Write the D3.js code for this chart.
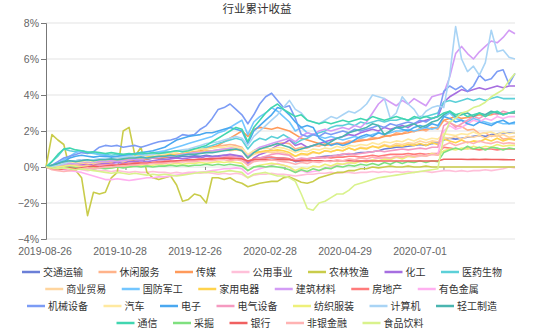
<!DOCTYPE html>
<html>
<head>
<meta charset="utf-8">
<script src="https://cdn.jsdelivr.net/npm/d3@7"></script>
<style>
  body { margin: 0; background: #fff; }
  svg { font-family: "Noto Sans CJK SC", "Noto Sans", sans-serif; }
</style>
</head>
<body>
<svg id="chart" width="550" height="332"></svg>
<script>
// ---- data: cumulative return (%) by industry, sampled every 3 trading days ----
const chartTitle = "行业累计收益";
const xLabels = ["2019-08-26", "2019-10-28", "2019-12-26", "2020-02-28", "2020-04-29", "2020-07-01"];
const yTicks = [-4, -2, 0, 2, 4, 6, 8];
const names = ["交通运输","休闲服务","传媒","公用事业","农林牧渔","化工","医药生物",
  "商业贸易","国防军工","家用电器","建筑材料","房地产","有色金属",
  "机械设备","汽车","电子","电气设备","纺织服装","计算机","轻工制造",
  "通信","采掘","银行","非银金融","食品饮料"];
const colors = ["#6b7fd7","#ffb38a","#ff9a5a","#ffc0d9","#c9cc4a","#a66ee0","#5cd0d8",
  "#ffd59e","#73c6ff","#ffd34d","#d39cf5","#ff7b7b","#ffb0f0",
  "#7c9cf5","#ffe9a0","#4aa8f0","#f59ac0","#eef07a","#a9d4f5","#4ab5b0",
  "#40d6b0","#7fe07f","#f06060","#ffb3b3","#d9f28c"];
const legendRows = [7, 6, 7, 5];

const transport = [0,0.1,0.15,0.25,0.3,0.35,0.4,0.38,0.3,0.32, 0.28,0.3,0.35,0.3,0.32,0.4,0.45,0.42,0.5,0.48,
  0.5,0.55,0.52,0.6,0.58,0.62,0.6,0.65,0.6,0.62, 0.65,0.6,0.62,0.55,0.2,0.45,0.5,0.55,0.52,0.5,
  0.48,0.45,0.3,0.35,0.4,0.5,0.55,0.6,0.62,0.65, 0.7,0.72,0.75,0.8,0.82,0.85,0.9,1.0,1.05,1.1,
  1.12,1.15,1.2,1.25,1.2,1.3,1.35,1.5,1.6,1.55, 1.6,1.65,1.7,1.75,1.7,1.8,1.85,1.9,1.88,1.9];
const leisure = [0,0.05,0.1,0.2,0.25,0.3,0.3,0.35,0.3,0.35, 0.4,0.45,0.5,0.5,0.55,0.6,0.65,0.7,0.7,0.75,
  0.75,0.8,0.85,0.9,0.95,1.0,1.0,1.05,1.1,1.15, 1.2,1.25,1.2,1.1,0.6,0.9,1.0,1.1,1.2,1.3,
  1.35,1.3,1.0,1.1,1.05,1.2,1.15,1.3,1.25,1.35, 1.3,1.45,1.4,1.55,1.5,1.65,1.6,1.75,1.7,1.9,
  1.85,2.05,1.95,2.15,2.0,2.2,2.1,2.6,2.45,2.3, 2.25,2.05,2.1,1.85,1.9,1.7,1.8,1.55,1.6,1.5];
const media = [0,0.05,0.1,0.1,0.15,0.1,0.2,0.15,0.1,0.2, 0.2,0.25,0.3,0.3,0.35,0.4,0.4,0.45,0.5,0.5,
  0.55,0.6,0.65,0.7,0.8,0.85,0.9,1.0,1.1,1.2, 1.4,1.6,1.8,2.0,1.7,2.1,2.2,2.15,2.1,2.2,
  2.1,2.0,1.8,1.6,1.5,1.4,1.3,1.2,1.25,1.3, 1.3,1.35,1.4,1.45,1.5,1.55,1.6,1.7,1.75,1.8,
  1.85,1.9,2.0,2.05,2.1,2.15,2.2,2.6,2.7,2.8, 2.7,2.75,2.8,2.9,2.85,2.9,3.0,2.95,3.0,3.0];
const utilities = [0,-0.05,-0.1,-0.1,-0.15,-0.1,-0.15,-0.2,-0.15,-0.2, -0.2,-0.25,-0.2,-0.25,-0.3,-0.25,-0.3,-0.3,-0.25,-0.3,
  -0.3,-0.35,-0.3,-0.35,-0.3,-0.3,-0.35,-0.3,-0.35,-0.4, -0.35,-0.4,-0.35,-0.4,-0.6,-0.45,-0.4,-0.4,-0.35,-0.4,
  -0.4,-0.45,-0.5,-0.45,-0.4,-0.4,-0.35,-0.35,-0.3,-0.35, -0.3,-0.3,-0.35,-0.3,-0.3,-0.25,-0.3,-0.25,-0.3,-0.25,
  -0.3,-0.25,-0.3,-0.25,-0.25,-0.3,-0.25,-0.2,-0.2,-0.25, -0.2,-0.25,-0.2,-0.2,-0.15,-0.2,-0.15,-0.1,0.0,-0.05];
const agriculture = [0,1.8,1.5,1.25,-0.1,-0.2,-0.6,-2.7,-1.4,-1.5, -1.4,-0.6,-0.3,2.0,2.2,0.6,1.1,-0.3,-0.6,-0.7,
  -0.6,-0.5,-1.0,-1.9,-1.8,-1.5,-1.6,-2.0,-0.6,-0.6, -0.7,-0.6,-0.8,-0.9,-1.1,-1.0,-0.9,-0.85,-0.8,-0.8,
  -0.6,-0.55,-0.7,-0.85,-0.9,-0.8,-0.6,-0.5,-0.4,-0.3, -0.3,-0.2,-0.2,-0.1,-0.1,0.0,-0.05,0.0,0.05,0.0,
  0.0,0.05,0.0,0.0,0.05,0.0,0.0,0.0,0.0,0.0, 0,0,0,0,0,0,0,0,0,0];
const chemicals = [0,0.05,0.1,0.1,0.15,0.1,0.15,0.1,0.2,0.15, 0.2,0.2,0.25,0.2,0.3,0.3,0.35,0.3,0.35,0.4,
  0.4,0.45,0.5,0.45,0.5,0.55,0.5,0.6,0.55,0.6, 0.65,0.7,0.65,0.6,0.2,0.5,0.7,0.8,1.0,1.2,
  1.3,1.5,1.2,1.3,1.1,1.2,1.3,1.4,1.5,1.6, 1.7,1.8,1.75,1.9,2.0,2.1,2.0,2.2,2.1,2.2,
  2.3,2.2,2.4,2.5,2.6,2.7,2.8,3.6,3.9,4.1, 4.3,4.2,4.3,4.4,4.3,4.4,4.5,4.4,4.5,4.5];
const pharma = [0,0.3,0.6,1.0,0.9,0.85,0.9,0.8,0.75,0.7, 0.7,0.65,0.7,0.6,0.65,0.7,0.7,0.75,0.7,0.8,
  0.85,0.8,0.9,0.85,0.9,1.0,1.0,1.1,1.2,1.3, 1.4,1.5,1.6,1.5,1.0,1.4,1.6,1.5,1.7,1.6,
  1.8,1.6,1.3,1.5,1.6,1.8,1.9,2.0,2.2,2.3, 2.3,2.4,2.3,2.5,2.4,2.5,2.6,2.5,2.6,2.6,
  2.7,2.6,2.7,2.8,2.8,2.9,3.0,3.6,3.7,3.6, 3.7,3.8,3.7,3.8,3.7,3.8,3.9,3.8,3.8,3.8];
const commerce = [0,0.05,0.1,0.15,0.2,0.15,0.2,0.25,0.2,0.25, 0.3,0.3,0.35,0.3,0.4,0.45,0.5,0.5,0.55,0.6,
  0.6,0.65,0.7,0.7,0.75,0.8,0.8,0.85,0.9,0.9, 0.95,0.9,0.95,0.9,0.5,0.7,0.8,0.85,0.8,0.85,
  0.8,0.7,0.6,0.7,0.65,0.8,0.75,0.9,0.85,0.95, 0.9,1.05,0.95,1.1,1.05,1.15,1.1,1.25,1.15,1.3,
  1.25,1.35,1.3,1.45,1.35,1.45,1.4,1.65,1.6,1.7, 1.55,1.7,1.65,1.75,1.6,1.75,1.7,1.8,1.65,1.7];
const defense = [0,0.1,0.2,0.4,0.6,0.8,0.9,0.85,0.8,0.7, 0.65,0.6,0.55,0.6,0.65,0.7,0.75,0.7,0.8,0.85,
  0.9,1.0,1.1,1.2,1.3,1.4,1.5,1.6,1.7,1.9, 2.0,2.2,2.4,2.6,1.8,2.5,2.8,3.0,3.3,3.1,
  2.8,2.5,2.0,2.2,1.9,1.8,1.7,1.6,1.7,1.6, 1.5,1.6,1.7,1.6,1.7,1.8,1.9,1.8,1.9,2.0,
  2.0,2.1,2.0,2.1,2.2,2.1,2.2,2.8,3.0,2.7, 2.6,2.5,2.7,2.6,2.5,2.4,2.5,2.4,2.4,2.4];
const appliances = [0,0.1,0.15,0.2,0.25,0.2,0.25,0.3,0.25,0.3, 0.3,0.35,0.4,0.4,0.45,0.5,0.5,0.55,0.6,0.6,
  0.65,0.7,0.7,0.75,0.8,0.8,0.85,0.9,0.9,0.95, 1.0,0.95,1.0,0.95,0.5,0.8,0.85,0.9,0.9,0.95,
  0.9,0.8,0.6,0.75,0.7,0.85,0.75,0.9,0.85,0.95, 0.9,1.05,0.95,1.05,1.0,1.15,1.05,1.2,1.1,1.2,
  1.15,1.25,1.2,1.3,1.2,1.35,1.25,1.55,1.45,1.35, 1.5,1.35,1.45,1.4,1.55,1.45,1.6,1.45,1.55,1.5];
const buildingMaterials = [0,0.05,0.1,0.15,0.2,0.2,0.25,0.3,0.25,0.3, 0.3,0.35,0.3,0.35,0.4,0.45,0.4,0.5,0.5,0.55,
  0.6,0.6,0.65,0.7,0.75,0.8,0.8,0.85,0.9,0.95, 1.0,1.05,1.1,1.0,0.6,0.9,1.1,1.2,1.3,1.4,
  1.5,1.6,1.4,1.7,1.9,1.8,2.0,2.1,2.0,2.1, 2.2,2.1,2.3,2.2,2.5,3.0,3.5,3.8,3.6,3.4,
  3.7,3.5,3.8,3.6,3.4,3.9,4.0,4.1,5.0,6.3, 6.7,6.3,6.0,6.4,6.7,7.0,6.9,7.2,7.6,7.4];
const realEstate = [0,-0.1,-0.15,-0.1,-0.05,0.0,0.05,0.1,0.05,0.1, 0.1,0.15,0.1,0.15,0.2,0.2,0.25,0.2,0.25,0.3,
  0.3,0.35,0.3,0.35,0.4,0.4,0.45,0.4,0.45,0.5, 0.5,0.55,0.5,0.5,0.3,0.45,0.5,0.5,0.55,0.5,
  0.5,0.45,0.35,0.4,0.45,0.5,0.5,0.55,0.5,0.55, 0.55,0.6,0.6,0.55,0.6,0.65,0.6,0.65,0.7,0.7,
  0.7,0.75,0.7,0.75,0.7,0.75,0.75,1.1,1.05,1.0, 1.0,1.05,1.0,0.95,1.0,1.0,0.95,1.0,1.0,1.0];
const nonferrous = [0,-0.05,-0.1,-0.15,-0.2,-0.25,-0.3,-0.4,-0.5,-0.6, -0.7,-0.7,-0.65,-0.7,-0.75,-0.7,-0.65,-0.6,-0.6,-0.55,
  -0.55,-0.5,-0.45,-0.4,-0.35,-0.3,-0.3,-0.25,-0.2,-0.15, -0.1,-0.1,-0.05,-0.1,-0.4,-0.2,-0.1,0.0,0.1,0.2,
  0.1,0.0,-0.3,-0.2,-0.3,-0.25,-0.2,-0.1,0.0,0.1, 0.15,0.2,0.25,0.3,0.35,0.4,0.5,0.45,0.5,0.55,
  0.5,0.6,0.55,0.6,0.65,0.7,0.7,2.0,2.3,2.1, 2.2,2.4,2.6,2.5,2.7,2.6,2.8,2.7,2.8,2.8];
const machinery = [0,0.1,0.3,0.5,0.6,0.7,0.8,0.75,0.85,1.1, 1.2,1.15,1.2,1.1,1.15,1.2,1.1,1.2,1.3,1.4,
  1.45,1.5,1.6,1.8,1.75,1.8,2.1,2.3,2.7,3.2, 3.3,3.5,3.2,2.9,2.4,2.9,3.5,3.9,4.1,3.7,
  3.3,3.4,2.7,1.8,1.7,1.8,1.7,1.9,1.8,1.9, 2.0,1.9,2.1,2.0,2.1,2.2,2.3,2.2,2.4,2.3,
  2.4,2.5,2.4,2.6,2.5,2.7,2.8,4.2,4.5,4.3, 4.5,4.2,4.5,5.1,4.8,4.9,5.3,5.4,4.6,5.2];
const autos = [0,0.1,0.15,0.2,0.3,0.25,0.3,0.35,0.3,0.4, 0.4,0.45,0.5,0.5,0.55,0.6,0.6,0.65,0.7,0.7,
  0.75,0.8,0.85,0.9,0.9,0.95,1.0,1.0,1.05,1.1, 1.1,1.15,1.1,1.05,0.7,0.9,1.0,1.05,1.0,1.1,
  1.05,0.95,0.8,0.9,0.85,1.0,0.95,1.05,1.0,1.15, 1.05,1.2,1.15,1.25,1.2,1.35,1.25,1.4,1.35,1.45,
  1.4,1.55,1.45,1.6,1.5,1.6,1.55,1.85,1.8,1.75, 1.85,1.8,1.95,1.8,1.9,1.95,1.8,1.95,1.85,1.9];
const electronics = [0,0.1,0.2,0.3,0.5,0.6,0.65,0.6,0.55,0.6, 0.6,0.55,0.6,0.65,0.7,0.75,0.8,0.85,0.9,1.0,
  1.1,1.3,1.5,1.6,1.7,1.75,1.8,1.9,1.9,2.0, 2.1,2.2,2.1,2.0,1.3,2.0,2.3,2.6,2.9,3.3,
  3.2,2.9,2.5,2.2,2.3,2.2,1.6,1.4,1.2,1.3, 1.2,1.3,1.5,1.7,1.8,1.7,1.9,1.8,2.0,2.2,
  2.1,2.0,2.2,2.3,2.2,2.4,2.3,2.8,2.7,2.5, 2.6,2.4,2.3,2.5,2.4,2.3,2.5,2.6,2.4,2.5];
const electrical = [0,0.0,0.05,0.0,0.05,0.1,0.05,0.1,0.05,0.1, 0.1,0.15,0.1,0.15,0.2,0.15,0.2,0.25,0.2,0.25,
  0.3,0.3,0.35,0.3,0.35,0.4,0.4,0.45,0.5,0.5, 0.55,0.6,0.55,0.5,0.1,0.4,0.5,0.6,0.7,0.75,
  0.7,0.65,0.4,0.5,0.45,0.5,0.55,0.5,0.6,0.65, 0.7,0.75,0.7,0.75,0.8,0.85,0.9,0.85,0.9,0.95,
  1.0,0.95,1.0,1.05,1.0,1.1,1.1,2.3,2.5,2.2, 2.4,2.6,2.8,2.7,2.9,3.0,2.9,3.1,3.0,3.1];
const textiles = [0,0.05,0.0,0.05,0.1,0.05,0.0,0.05,0.0,-0.05, 0.0,-0.05,0.0,0.05,0.0,0.05,0.1,0.05,0.1,0.15,
  0.1,0.15,0.2,0.15,0.2,0.2,0.25,0.2,0.25,0.3, 0.25,0.3,0.25,0.2,-0.2,0.0,0.1,0.15,0.2,0.15,
  0.1,0.0,-0.2,-0.05,-0.1,0.05,0.0,0.15,0.05,0.2, 0.15,0.25,0.2,0.35,0.25,0.4,0.35,0.45,0.4,0.55,
  0.45,0.6,0.55,0.65,0.6,0.75,0.65,0.9,1.0,0.95, 1.05,1.0,1.15,1.05,1.15,1.1,1.25,1.15,1.2,1.2];
const computers = [0,0.05,0.1,0.2,0.3,0.35,0.4,0.35,0.4,0.45, 0.5,0.45,0.5,0.55,0.6,0.55,0.6,0.65,0.7,0.75,
  0.8,0.85,0.9,0.95,1.0,1.1,1.2,1.3,1.35,1.4, 1.5,1.6,1.7,1.6,1.2,1.7,2.0,2.3,2.6,2.9,
  3.3,3.7,3.2,3.0,2.6,2.5,2.4,2.6,2.8,2.7, 2.9,3.1,3.0,3.2,3.5,4.0,3.9,3.8,2.7,3.0,
  3.9,3.5,3.2,2.7,3.1,3.3,3.4,3.3,5.1,7.8, 6.0,5.3,5.6,5.1,5.8,7.6,6.4,6.5,6.1,6.0];
const lightIndustry = [0,0.1,0.2,0.3,0.35,0.3,0.35,0.4,0.35,0.4, 0.4,0.45,0.4,0.45,0.5,0.5,0.55,0.5,0.55,0.6,
  0.6,0.65,0.6,0.65,0.7,0.7,0.75,0.8,0.8,0.85, 0.9,0.95,1.0,0.9,0.5,0.8,1.0,1.1,1.2,1.3,
  1.2,1.1,0.9,1.0,1.1,1.2,1.3,1.2,1.4,1.6, 1.7,1.9,2.0,2.1,2.2,2.4,2.3,1.8,2.0,2.2,
  2.2,2.3,2.4,2.2,2.3,2.5,2.6,2.9,3.1,2.8, 2.9,3.0,2.8,3.0,2.9,3.1,3.0,2.9,3.0,3.0];
const telecom = [0,0.3,0.7,1.0,1.05,0.95,0.9,0.8,0.85,0.8, 0.75,0.8,0.75,0.7,0.75,0.7,0.8,0.75,0.8,0.75,
  0.8,0.85,0.9,0.85,0.9,1.0,1.1,1.2,1.4,1.6, 1.8,2.0,2.2,2.1,1.4,2.2,2.6,3.0,3.3,3.5,
  3.2,3.0,2.8,2.9,2.6,2.5,2.4,2.5,2.4,2.5, 2.6,2.5,2.6,2.7,2.6,2.8,2.7,2.6,2.7,2.8,
  2.7,2.6,2.8,2.7,2.8,2.7,2.8,3.0,3.1,2.9, 3.0,2.8,2.9,3.0,2.8,3.0,3.1,2.9,3.0,3.1];
const mining = [0,-0.05,-0.1,-0.05,0.0,-0.05,-0.1,-0.05,-0.1,-0.05, -0.1,-0.05,0.0,-0.05,0.0,0.05,0.0,0.05,0.0,0.05,
  0.05,0.1,0.05,0.1,0.05,0.1,0.1,0.15,0.1,0.15, 0.1,0.15,0.1,0.05,-0.2,0.0,0.05,0.0,0.05,0.0,
  -0.05,-0.15,-0.3,-0.15,-0.25,-0.1,-0.2,-0.05,-0.1,0.05, 0.0,0.1,0.05,0.15,0.1,0.2,0.1,0.25,0.15,0.3,
  0.2,0.3,0.25,0.35,0.25,0.35,0.3,0.8,0.95,1.05, 0.95,1.15,1.0,1.1,0.95,1.1,1.05,0.95,1.05,1.0];
const banks = [0,-0.1,-0.15,-0.1,-0.05,-0.1,-0.05,0.0,0.05,0.0, 0.05,0.1,0.1,0.15,0.15,0.2,0.2,0.2,0.25,0.25,
  0.3,0.3,0.35,0.35,0.4,0.4,0.4,0.45,0.45,0.45, 0.5,0.45,0.45,0.45,0.35,0.4,0.4,0.4,0.4,0.4,
  0.4,0.4,0.35,0.35,0.35,0.35,0.35,0.35,0.35,0.35, 0.35,0.35,0.33,0.33,0.33,0.33,0.33,0.33,0.33,0.33,
  0.33,0.33,0.33,0.33,0.33,0.33,0.33,0.43,0.43,0.43, 0.43,0.42,0.43,0.42,0.43,0.42,0.42,0.41,0.4,0.4];
const nonBankFinance = [0,-0.15,-0.2,-0.25,-0.2,-0.15,-0.1,-0.05,-0.1,-0.05, 0.0,0.0,0.05,0.05,0.1,0.1,0.15,0.15,0.2,0.2,
  0.2,0.25,0.25,0.3,0.3,0.3,0.35,0.35,0.35,0.4, 0.4,0.35,0.4,0.35,0.1,0.3,0.35,0.35,0.4,0.35,
  0.3,0.25,0.15,0.25,0.2,0.3,0.25,0.35,0.3,0.4, 0.35,0.45,0.4,0.5,0.45,0.55,0.5,0.55,0.5,0.6,
  0.55,0.65,0.6,0.65,0.6,0.7,0.65,1.2,1.35,1.2, 1.3,1.4,1.3,1.45,1.35,1.3,1.4,1.3,1.35,1.3];
const foodBeverage = [0,-0.05,-0.1,-0.05,-0.1,-0.15,-0.1,-0.15,-0.2,-0.25, -0.3,-0.35,-0.3,-0.35,-0.4,-0.35,-0.4,-0.45,-0.4,-0.45,
  -0.4,-0.45,-0.5,-0.45,-0.4,-0.35,-0.3,-0.3,-0.25,-0.3, -0.25,-0.2,-0.25,-0.3,-0.6,-0.4,-0.35,-0.3,-0.4,-0.5,
  -0.5,-0.6,-0.8,-1.5,-2.3,-2.4,-2.0,-1.9,-1.7,-1.5, -1.5,-1.3,-1.0,-0.9,-0.8,-0.7,-0.6,-0.55,-0.5,-0.45,
  -0.4,-0.35,-0.3,-0.25,-0.2,-0.15,-0.1,1.7,2.5,2.7, 3.0,3.1,3.3,3.4,3.6,3.9,4.1,4.3,4.8,5.2];

const seriesValues = [transport, leisure, media, utilities, agriculture, chemicals, pharma,
  commerce, defense, appliances, buildingMaterials, realEstate, nonferrous,
  machinery, autos, electronics, electrical, textiles, computers, lightIndustry,
  telecom, mining, banks, nonBankFinance, foodBeverage];

// ---- layout ----
const svg = d3.select("#chart");
const margin = { left: 46, right: 35, top: 23, bottom: 93 };
const W = 550, H = 332;
const nPts = transport.length;

const x = d3.scaleLinear().domain([0, nPts - 1]).range([margin.left, W - margin.right]);
const y = d3.scaleLinear().domain([-4, 8]).range([H - margin.bottom, margin.top]);
const xLab = d3.scalePoint().domain(xLabels).range([45, 420]);

// title
svg.append("text")
  .attr("x", 257).attr("y", 13)
  .attr("text-anchor", "middle")
  .attr("font-size", 11.5).attr("fill", "#333")
  .text(chartTitle);

// horizontal grid
svg.append("g").selectAll("line").data(yTicks).join("line")
  .attr("x1", x(0)).attr("x2", x(nPts - 1))
  .attr("y1", d => y(d)).attr("y2", d => y(d))
  .attr("stroke", "#e3e3e3").attr("stroke-width", 1.2);

// y axis
const yAxis = svg.append("g")
  .attr("transform", `translate(${x(0)},0)`)
  .call(d3.axisLeft(y).tickValues(yTicks).tickFormat(d => d3.format(".0%")(d / 100))
    .tickSizeInner(5).tickSizeOuter(5).tickPadding(2));
yAxis.selectAll("text").attr("font-size", 10.5).attr("fill", "#666")
  .style("font-family", "'Liberation Sans', 'DejaVu Sans', sans-serif");
yAxis.selectAll("path, line").attr("stroke", "#777");

// tick marks on the zero line
const tickEvery = (nPts - 1) * 40 / 236;
const zAxis = svg.append("g")
  .attr("transform", `translate(0,${y(0)})`)
  .call(d3.axisBottom(x).tickValues(d3.range(0, nPts, tickEvery)).tickSize(3).tickFormat(""));
zAxis.select(".domain").remove();
zAxis.selectAll("line").attr("stroke", "#888");

// date labels along the bottom
svg.append("g").selectAll("text").data(xLabels).join("text")
  .attr("x", d => xLab(d)).attr("y", 255)
  .attr("text-anchor", "middle")
  .attr("font-size", 10.5).attr("fill", "#666")
  .style("font-family", "'Liberation Sans', 'DejaVu Sans', sans-serif")
  .text(d => d);

// lines
const line = d3.line().x((d, i) => x(i)).y(d => y(d));
svg.append("g").selectAll("path").data(seriesValues).join("path")
  .attr("d", d => line(d))
  .attr("fill", "none")
  .attr("stroke", (d, i) => colors[i])
  .attr("stroke-width", 1.6)
  .attr("stroke-linejoin", "round");

// legend
const rowY = [272, 289, 306, 323];
const rowCenter = [262, 262, 262, 270];
const itemGap = 15.5;
const legend = svg.append("g");
let k = 0;
legendRows.forEach((count, r) => {
  const row = legend.append("g");
  let cx = 0;
  for (let j = 0; j < count; j++, k++) {
    const item = row.append("g").attr("transform", `translate(${cx},0)`);
    item.append("line").attr("x1", 0).attr("x2", 18).attr("y1", 0).attr("y2", 0)
      .attr("stroke", colors[k]).attr("stroke-width", 2.5);
    const t = item.append("text").attr("x", 21).attr("y", 3.6)
      .attr("font-size", 10).attr("fill", "#333").text(names[k]);
    cx += 21 + t.node().getComputedTextLength() + itemGap;
  }
  const wRow = cx - itemGap;
  row.attr("transform", `translate(${rowCenter[r] - wRow / 2},${rowY[r]})`);
});
</script>
</body>
</html>
